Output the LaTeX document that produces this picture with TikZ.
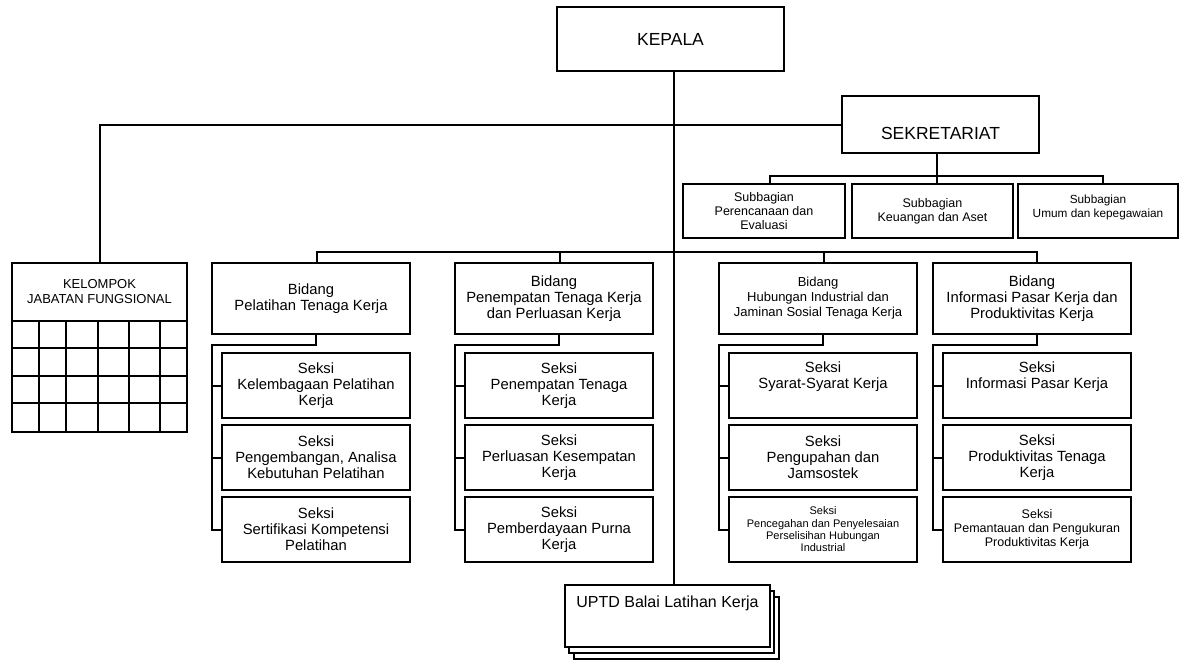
\documentclass[tikz,border=0pt]{standalone}
\usepackage{fontspec}
\setmainfont{Liberation Sans}

\begin{document}
\begin{tikzpicture}[x=1pt,y=-1pt,
  box/.style={draw,line width=2pt,fill=white,align=center,inner sep=2pt},
  seksi/.style={box,minimum width=188,minimum height=65},
  bidang/.style={box,minimum width=198,minimum height=71},
  link/.style={line width=2pt},
  fbig/.style={font=\fontsize{17.5}{20}\selectfont},
  fmid/.style={font=\fontsize{14.8}{16}\selectfont},
  fmed/.style={font=\fontsize{13}{15}\selectfont},
  fsml/.style={font=\fontsize{12.5}{14}\selectfont},
  ftny/.style={font=\fontsize{11}{12.3}\selectfont}]
  \useasboundingbox (0,0) rectangle (1185,667);

  % kepala & sekretariat
  \node[box,fbig,minimum width=227,minimum height=64] (kepala) at (670.5,39) {KEPALA};
  \node[box,minimum width=197,minimum height=57] (sekr) at (940.5,124.5) {};
  \node[fbig] (sekrtxt) at ([yshift=-9pt]sekr.center) {SEKRETARIAT};

  \node[box,fsml,minimum width=162,minimum height=54] (sub1) at (764,211) {Subbagian\\Perencanaan dan\\Evaluasi};
  \node[box,fsml,minimum width=161,minimum height=54] (sub2) at (932.5,211) {Subbagian\\Keuangan dan Aset};
  \node[box,font=\fontsize{11.8}{13.5}\selectfont,minimum width=160,minimum height=54] (sub3) at (1098,211) {Subbagian\\Umum dan kepegawaian\\[-4pt]};

  % kelompok jabatan fungsional
  \node[box,fmed,minimum width=175,minimum height=58] (kelompok) at (99.5,292) {KELOMPOK\\JABATAN FUNGSIONAL};
  \foreach \xa/\xb in {12/39,39/66,66/98,98/129,129/160,160/187}
    \foreach \ya/\yb in {321/348,348/376,376/403,403/432}
      \draw[line width=2pt] (\xa,\ya) rectangle (\xb,\yb);

  % bidang
  \node[bidang,fmid] (b1) at (311,298.5) {Bidang\\Pelatihan Tenaga Kerja};
  \node[bidang,fmid] (b2) at (554,298.5) {Bidang\\Penempatan Tenaga Kerja\\dan Perluasan Kerja};
  \node[bidang,fmed] (b3) at (818,298.5) {Bidang\\Hubungan Industrial dan\\Jaminan Sosial Tenaga Kerja};
  \node[bidang,fmid] (b4) at (1032,298.5) {Bidang\\Informasi Pasar Kerja dan\\Produktivitas Kerja};

  % seksi
  \foreach \n/\sx/\sy/\f/\t in {
    s11/316/385.5/fmid/{Seksi\\Kelembagaan Pelatihan\\Kerja},
    s12/316/457.5/fmid/{Seksi\\Pengembangan, Analisa\\Kebutuhan Pelatihan},
    s13/316/529.5/fmid/{Seksi\\Sertifikasi Kompetensi\\Pelatihan},
    s21/559/385.5/fmid/{Seksi\\Penempatan Tenaga\\Kerja},
    s22/559/457.5/fmid/{Seksi\\Perluasan Kesempatan\\Kerja},
    s23/559/529.5/fmid/{Seksi\\Pemberdayaan Purna\\Kerja},
    s31/823/385.5/fmid/{Seksi\\Syarat-Syarat Kerja\\\strut},
    s32/823/457.5/fmid/{Seksi\\Pengupahan dan\\Jamsostek},
    s33/823/529.5/ftny/{Seksi\\Pencegahan dan Penyelesaian\\Perselisihan Hubungan\\Industrial},
    s41/1037/385.5/fmid/{Seksi\\Informasi Pasar Kerja\\\strut},
    s42/1037/457.5/fmid/{Seksi\\Produktivitas Tenaga\\Kerja},
    s43/1037/529.5/fsml/{Seksi\\Pemantauan dan Pengukuran\\Produktivitas Kerja}}
    \node[seksi,\f] (\n) at (\sx,\sy) {\t};

  % uptd
  \foreach \dx/\dy in {9/12,4/6}
    \draw[line width=2pt,fill=white] ({565+\dx},{585+\dy}) rectangle ({770+\dx},{647+\dy});
  \node[box,font=\fontsize{16}{18}\selectfont,minimum width=205,minimum height=62] (uptd) at (667.5,616) {UPTD Balai Latihan Kerja\\[6pt]\strut};

  % garis
  \draw[link] ([xshift=3.5]kepala.south) -- ([xshift=3.5]kepala.south |- uptd.north);
  \draw[link] (kelompok.north) |- (sekr.west);
  \draw[link] ([xshift=-3.5]sekr.south) -- ([xshift=-3.5]sekr.south |- sub2.north);
  \draw[link] ([xshift=6]sub1.north) -- ++(0,-7) -| ([xshift=5]sub3.north);
  \draw[link] ([xshift=6]b1.north) -- ++(0,-10) -| ([xshift=5]b4.north);
  \foreach \b in {2,3}
    \draw[link] ([xshift=6]b\b.north) -- ++(0,-10);
  \foreach \b in {1,2,3,4} {
    \draw[link] ([xshift=5]b\b.south) -- ++(0,10) -| ([xshift=1]b\b.west |- s\b3.west) -- (s\b3.west);
    \draw[link] ([xshift=1]b\b.west |- s\b1.west) -- (s\b1.west);
    \draw[link] ([xshift=1]b\b.west |- s\b2.west) -- (s\b2.west);
  }
\end{tikzpicture}
\end{document}
